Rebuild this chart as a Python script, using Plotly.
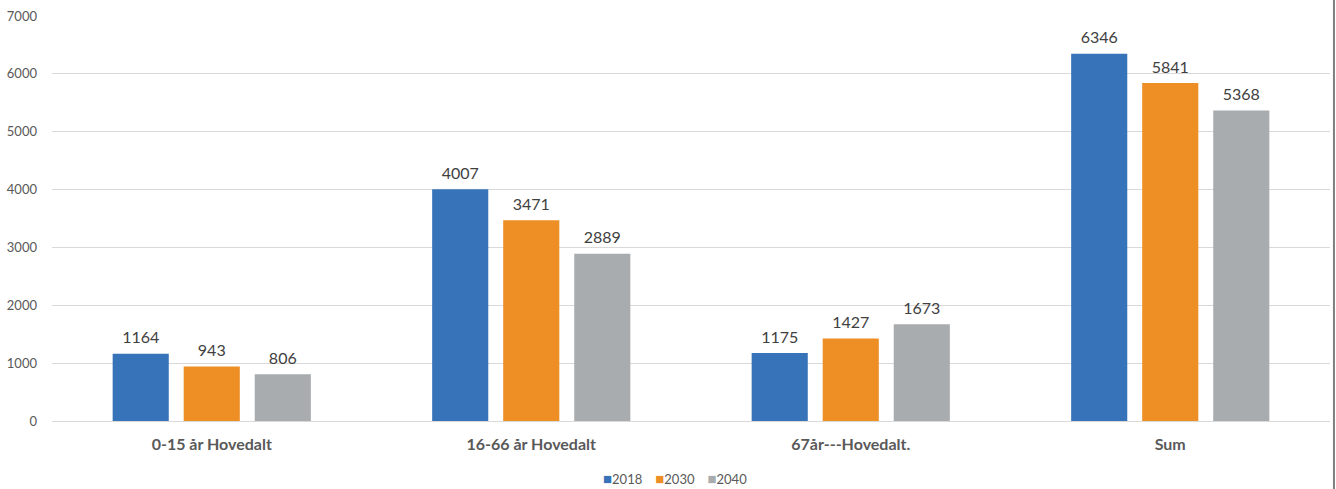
import plotly.graph_objects as go

categories = ["0-15 år Hovedalt", "16-66 år Hovedalt", "67år---Hovedalt.", "Sum"]
years = ["2018", "2030", "2040"]
values_2018 = [1164, 4007, 1175, 6346]
values_2030 = [943, 3471, 1427, 5841]
values_2040 = [806, 2889, 1673, 5368]
colors = ["#3773B8", "#ED8F24", "#A9ACAE"]

font_family = "Lato, 'Open Sans', sans-serif"
text_color = "#595959"

fig = go.Figure()
for name, vals, col in zip(years, [values_2018, values_2030, values_2040], colors):
    fig.add_trace(go.Bar(
        name=name, x=categories, y=vals,
        marker=dict(color=col, line=dict(width=0)),
        text=[str(v) for v in vals], textposition="outside",
        texttemplate="<span style='font-size:16px'>%{text}</span><br> ",
        textfont=dict(size=5, color="#404040", family=font_family),
        constraintext="none",
        cliponaxis=False,
    ))

legend_text = "\u2002\u2002".join(
    f"<span style='color:{c};font-size:15px'>■</span>{y}" for y, c in zip(years, colors)
)
fig.add_annotation(xref="paper", yref="paper", x=0.4875, y=-0.1407, xanchor="center",
                   yanchor="middle", text=legend_text, showarrow=False,
                   font=dict(size=13, color=text_color, family=font_family))

fig.update_layout(
    width=1336, height=489,
    margin=dict(l=52, r=6, t=16, b=68, autoexpand=False),
    paper_bgcolor="white", plot_bgcolor="white",
    barmode="group", bargap=0.333, bargroupgap=0.21,
    font=dict(family=font_family, color=text_color),
    showlegend=False,
    xaxis=dict(showgrid=False, showline=False, ticks="", automargin=False,
               tickfont=dict(size=16, color=text_color, family=font_family, weight="bold"),
               ticklabelstandoff=12),
    yaxis=dict(range=[0, 7000], dtick=1000, showgrid=True, gridcolor="#D9D9D9", gridwidth=1,
               zeroline=True, zerolinecolor="#D9D9D9", zerolinewidth=1, automargin=False,
               tickfont=dict(size=13, color=text_color), ticklabelstandoff=14),
)

fig.add_shape(type="line", xref="paper", yref="paper", x0=1.0031, x1=1.0031, y0=-0.2, y1=1.05,
              line=dict(color="#7F7F7F", width=2))

fig.write_html("out.html", config={"displayModeBar": False},
               post_script="document.body.style.margin='0';")
